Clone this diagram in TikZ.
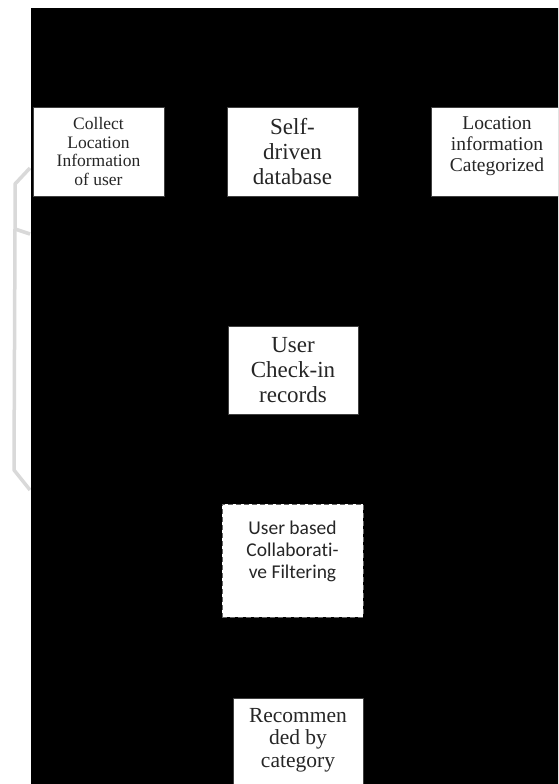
\documentclass[tikz,border=0pt]{standalone}
\usepackage{fontspec}
\setmainfont{Liberation Serif}
\newfontfamily\carlitofont[Ligatures=NoCommon]{Carlito}
\begin{document}
\begin{tikzpicture}[x=1pt,y=-1pt,
  flowbox/.style={rectangle, draw=black!75, line width=0.8pt, fill=white, text=black!85, align=center, inner sep=0pt},
  dashbox/.style={flowbox, dashed, dash pattern=on 5pt off 3pt, draw=black!60}]
\useasboundingbox (0,0) rectangle (558,784);
\clip (0,0) rectangle (558,784);
\fill[white] (0,0) rectangle (558,784);
% faint bracket in the left margin
\draw[gray!30, line width=3.5pt, line join=round]
  (30,168) -- (15,184) -- (15,229) -- (14,470) -- (30,490);
\draw[gray!30, line width=3.5pt, line join=round] (15,229) -- (30,234);
% black field
\fill[black] (31,8) rectangle (570,800);
% boxes
\node[flowbox, minimum width=131, minimum height=89, font=\fontsize{17.5}{18.5}\selectfont]
  (collect) at (98.5,151.5) {Collect\\Location\\Information\\of user};
\node[flowbox, minimum width=131, minimum height=89, font=\fontsize{23}{25}\selectfont]
  (selfdb) at (292.5,151.5) {Self-\\driven\\database};
\node[flowbox, minimum width=132, minimum height=89, font=\fontsize{19.5}{21}\selectfont]
  (loccat) at (497,151.5) {Location\\information\\Categorized\\[-6pt]\mbox{}};
\node[flowbox, minimum width=130, minimum height=88, font=\fontsize{23}{25}\selectfont]
  (checkin) at (293,370) {User\\Check-in\\records};
\node[dashbox, minimum width=141, minimum height=113, font=\carlitofont\fontsize{19.5}{22}\selectfont]
  (cf) at (292.5,560.5) {User based\\Collaborati-\\ve Filtering\\\mbox{}};
\node[flowbox, minimum width=130, minimum height=102, font=\fontsize{21.5}{22.5}\selectfont]
  (recom) at (298,749) {Recommen\\ded by\\category\\\mbox{}};
\end{tikzpicture}
\end{document}
